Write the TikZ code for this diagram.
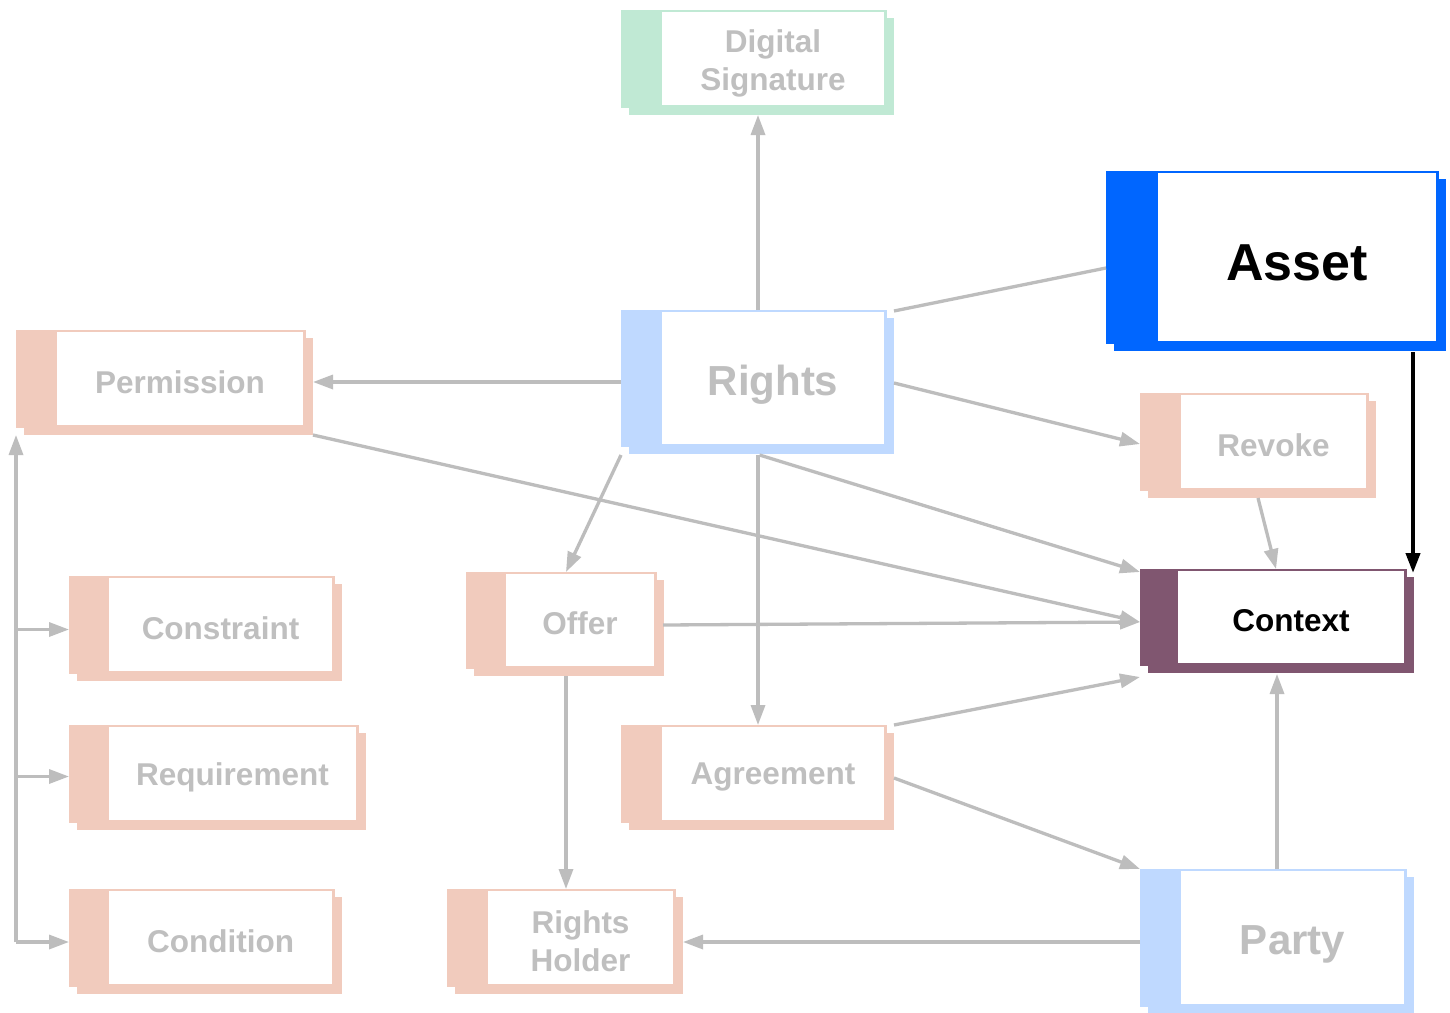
\documentclass[tikz,border=0pt]{standalone}
\usepackage{fontspec}
\setmainfont{Liberation Sans}
\usetikzlibrary{arrows.meta,calc}
\definecolor{salmon}{HTML}{F1CBBD}
\definecolor{lblue}{HTML}{BFD9FF}
\definecolor{lgreen}{HTML}{C0E9D4}
\definecolor{assetblue}{HTML}{0066FF}
\definecolor{ctxpurple}{HTML}{805670}
\definecolor{tgray}{HTML}{BFBFBF}
\definecolor{lgray}{HTML}{BDBDBD}
\newcommand\mybox[9]{%
  \fill[#6] (#2+8,#3+8) rectangle (#4+8,#5+8);
  \node[draw=#6, fill=#6, line width=1pt, inner sep=0pt, outer sep=0pt,
        minimum width={(#4-#2)*1pt}, minimum height={(#5-#3)*1pt}] (#1) at ({(#2+#4)/2},{(#3+#5)/2}) {};
  \fill[white] (#2+#7,#3+2) rectangle (#4-2,#5-2);
  \node[align=center, inner sep=0pt, #8] (#1-t) at ({(#2+#7+#4-2)/2},{(#3+#5)/2}) {#9};
}
\tikzset{
  small/.style={font=\fontsize{31.5}{38}\selectfont\bfseries, text=tgray, yshift=-3.5pt},
  big/.style={font=\fontsize{42}{48}\selectfont\bfseries, text=tgray, yshift=-6.5pt},
  arr/.style={draw=lgray, line width=3.3pt, -{Triangle[length=20pt,width=14pt]}},
  plain/.style={draw=lgray, line width=3.3pt},
  blk/.style={draw=black, line width=4pt, -{Triangle[length=20pt,width=14pt]}}
}
\begin{document}
\begin{tikzpicture}[x=1pt,y=-1pt]
\useasboundingbox[fill=white] (0,0) rectangle (1450,1012);
% boxes
\mybox{ds}{621}{10}{886}{107}{lgreen}{41}{small,yshift=-1.5pt}{Digital\\Signature}
\mybox{asset}{1106}{171}{1438}{343}{assetblue}{52}{font=\fontsize{52}{60}\selectfont\bfseries, text=black, yshift=-6pt}{Asset}
\mybox{rights}{621}{310}{886}{446}{lblue}{41}{big}{Rights}
\mybox{perm}{16}{330}{305}{427}{salmon}{41}{small}{Permission}
\mybox{revoke}{1140}{393}{1368}{490}{salmon}{41}{small}{Revoke}
\mybox{ctx}{1140}{569}{1406}{665}{ctxpurple}{38}{font=\fontsize{31.5}{38}\selectfont\bfseries, text=black, yshift=-3.5pt}{Context}
\mybox{cons}{69}{576}{334}{673}{salmon}{40}{small}{Constraint}
\mybox{offer}{466}{572}{656}{668}{salmon}{40}{small}{Offer}
\mybox{req}{69}{725}{358}{822}{salmon}{40}{small}{Requirement}
\mybox{agr}{621}{725}{886}{822}{salmon}{41}{small}{Agreement}
\mybox{cond}{69}{889}{334}{986}{salmon}{40}{small}{Condition}
\mybox{rh}{447}{889}{675}{986}{salmon}{41}{small}{Rights\\Holder}
\mybox{party}{1140}{869}{1406}{1006}{lblue}{41}{big}{Party}
% connectors
\draw[arr] ([xshift=4.5pt]rights.north) -- ([xshift=4.5pt,yshift=-8pt]ds.south);
\draw[plain] ([xshift=8pt,yshift=-1pt]rights.north east) -- ([yshift=-11pt]asset.west);
\draw[arr] ([yshift=-4pt]rights.west) -- ([xshift=8pt,yshift=-3.5pt]perm.east);
\draw[arr] ([xshift=8pt,yshift=-5pt]rights.east) -- ([yshift=-2.5pt]revoke.west);
\draw[arr] ([yshift=-9pt]rights.south west) -- ([xshift=5pt]offer.north);
\draw[arr] ([xshift=4.5pt,yshift=-9pt]rights.south) -- ([xshift=4.5pt]agr.north);
\draw[arr] ([xshift=6pt,yshift=-9pt]rights.south) -- ([yshift=-3pt]ctx.north west);
\draw[arr] ([xshift=8pt,yshift=-8pt]perm.south east) -- ([yshift=-5pt]ctx.west);
\draw[arr] ([xshift=7pt,yshift=-5pt]offer.east) -- ([yshift=-5pt]ctx.west);
\draw[arr] ([xshift=5pt,yshift=-8pt]offer.south) -- ([xshift=5pt]rh.north);
\draw[arr] ([xshift=8pt]agr.north east) -- ([yshift=-12pt]ctx.south west);
\draw[arr] ([xshift=8pt,yshift=-4.5pt]agr.east) -- (party.north west);
\draw[arr] ([xshift=4pt]party.north) -- ([xshift=4pt,yshift=-9pt]ctx.south);
\draw[arr] ([yshift=-4.5pt]party.west) -- ([xshift=8pt,yshift=-4.5pt]rh.east);
\draw[arr] ([xshift=4pt,yshift=-8pt]revoke.south) -- ([xshift=3pt]ctx.north);
\draw[blk] ([xshift=-25pt,yshift=-9pt]asset.south east) -- ([xshift=7pt,yshift=-4pt]ctx.north east);
% bus on the left
\coordinate (busend) at (16,942);
\draw[arr] (busend) -- ([yshift=-8pt]perm.south west);
\draw[arr] ($(busend |- cons.west)+(0,5)$) -- ($(cons.west)+(0,5)$);
\draw[arr] ($(busend |- req.west)+(0,3)$) -- ($(req.west)+(0,3)$);
\draw[arr] ($(busend |- cond.west)+(0,4.5)$) -- ($(cond.west)+(0,4.5)$);
\end{tikzpicture}
\end{document}
